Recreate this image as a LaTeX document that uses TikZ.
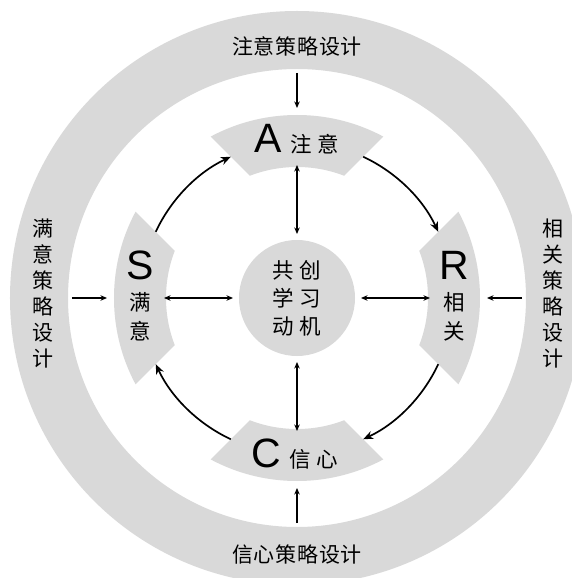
\documentclass[tikz,border=0pt]{standalone}
\usepackage{fontspec}
\setmainfont{Noto Sans CJK SC}
\newfontfamily\latinfont{Liberation Sans}
\usetikzlibrary{arrows.meta}
\definecolor{ringgray}{RGB}{217,217,217}
\newcommand\ks{\kern0.7pt}
\tikzset{
  outertxt/.style={font=\fontsize{21}{26}\selectfont, align=center, inner sep=0pt},
  bigletter/.style={font=\latinfont\fontsize{41}{41}\selectfont, inner sep=0pt},
  cjktxt/.style={font=\fontsize{21.5}{29}\selectfont, align=center, inner sep=0pt},
  cyclearrow/.style={line width=1.7pt, -{Stealth[length=10pt,width=8pt]}},
  inarrow/.style={line width=1.1pt, -{Stealth[length=6.5pt,width=5.5pt]}},
  dblarrow/.style={line width=1.1pt, {Stealth[length=6.5pt,width=5.5pt]}-{Stealth[length=6.5pt,width=5.5pt]}},
}
\begin{document}
\begin{tikzpicture}[x=1pt,y=1pt]
\useasboundingbox (-297,-280) rectangle (274,298);
\fill[white] (-297,-280) rectangle (274,298);
% outer ring
\fill[ringgray, even odd rule] (0,0) circle[radius=287] (0,0) circle[radius=229];
% four sectors
\foreach \a in {0,90,180,270}{
  \begin{scope}[rotate=\a]
    \clip (0,75) -- (270,345) -- (-270,345) -- cycle;
    \fill[ringgray, even odd rule] (0,0) circle[radius=183] (0,0) circle[radius=131];
  \end{scope}
}
% centre circle
\node[circle, fill=ringgray, minimum size=116pt, inner sep=0pt, align=center,
      font=\fontsize{21.5}{28}\selectfont] (mid) at (0,0) {共\kern6pt创\\学\kern6pt习\\动\kern6pt机};
% outer strategy texts
\node[outertxt] (topt) at (0,251.5) {注\ks 意\ks 策\ks 略\ks 设\ks 计};
\node[outertxt] (bott) at (0,-257) {信\ks 心\ks 策\ks 略\ks 设\ks 计};
\node[outertxt] (leftt) at (-254,4) {满\\意\\策\\略\\设\\计};
\node[outertxt] (rightt) at (256,4) {相\\关\\策\\略\\设\\计};
% sector labels
\node[anchor=base, inner sep=0pt, font=\fontsize{21.5}{21.5}\selectfont] (Alab) at (0,145)
  {{\latinfont\fontsize{41}{41}\selectfont A}\kern8pt 注\kern6pt意};
\node[anchor=base, inner sep=0pt, font=\fontsize{21.5}{21.5}\selectfont] (Clab) at (-2,-169)
  {{\latinfont\fontsize{41}{41}\selectfont C}\kern8pt 信\kern6pt心};
\node[bigletter] (Slet) at (-157,33) {S};
\node[cjktxt] (Stxt) at (-157,-19) {满\\意};
\node[bigletter] (Rlet) at (157,33) {R};
\node[cjktxt] (Rtxt) at (157,-19) {相\\关};
% coordinates for connectors
\coordinate (Aout) at (0,190);   \coordinate (Aoutst) at (0,225);
\coordinate (Cout) at (0,-190);  \coordinate (Coutst) at (0,-225);
\coordinate (Sout) at (-190,0);  \coordinate (Soutst) at (-225,0);
\coordinate (Rout) at (190,0);   \coordinate (Routst) at (225,0);
\coordinate (Ain) at (0,133);  \coordinate (Cin) at (0,-133);
\coordinate (Sin) at (-133,0); \coordinate (Rin) at (133,0);
\coordinate (mA) at (0,64);  \coordinate (mC) at (0,-64);
\coordinate (mS) at (-64,0); \coordinate (mR) at (64,0);
\coordinate (SA) at (154.9:156); \coordinate (AR) at (64.9:156);
\coordinate (RC) at (-25.1:156); \coordinate (CS) at (-115.1:156);
% outer arrows
\draw[inarrow] (Aoutst) -- (Aout);
\draw[inarrow] (Coutst) -- (Cout);
\draw[inarrow] (Soutst) -- (Sout);
\draw[inarrow] (Routst) -- (Rout);
% inner double arrows
\draw[dblarrow] (mA) -- (Ain);
\draw[dblarrow] (mC) -- (Cin);
\draw[dblarrow] (mS) -- (Sin);
\draw[dblarrow] (mR) -- (Rin);
% cycle arrows
\draw[cyclearrow] (SA) arc[start angle=154.9, end angle=115.1, radius=156];
\draw[cyclearrow] (AR) arc[start angle=64.9, end angle=25.1, radius=156];
\draw[cyclearrow] (RC) arc[start angle=-25.1, end angle=-64.9, radius=156];
\draw[cyclearrow] (CS) arc[start angle=-115.1, end angle=-154.9, radius=156];
\end{tikzpicture}
\end{document}
